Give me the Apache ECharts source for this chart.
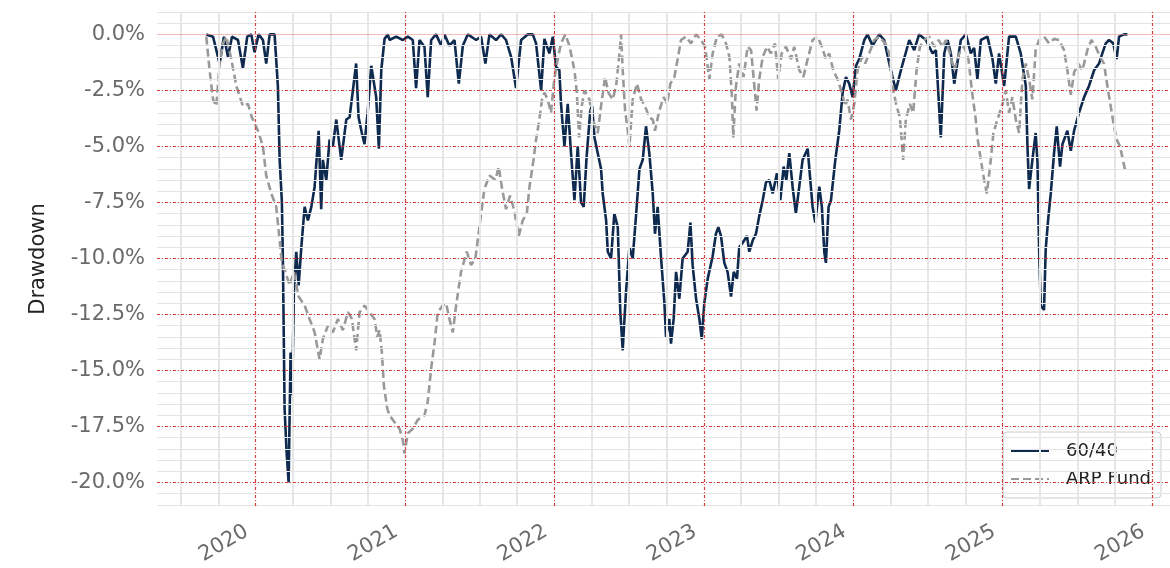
<!DOCTYPE html>
<html>
<head>
<meta charset="utf-8">
<title>Drawdown: 60/40 vs ARP Fund</title>
<script src="https://cdn.jsdelivr.net/npm/echarts@6/dist/echarts.min.js"></script>
<style>
  html, body { margin: 0; padding: 0; background: #ffffff; }
  #chart { width: 1170px; height: 568px; }
</style>
</head>
<body>
<div id="chart"></div>
<script>
// Time is stored as fractional years; drawdowns are in percent.
const t6040 = [
  2019.670, 2019.715, 2019.759, 2019.788, 2019.815, 2019.842, 2019.882, 2019.915, 2019.944, 2019.971,
  2019.993, 2020.020, 2020.049, 2020.071, 2020.094, 2020.127, 2020.149, 2020.161, 2020.176, 2020.183,
  2020.194, 2020.207, 2020.221, 2020.234, 2020.245, 2020.256, 2020.272, 2020.288, 2020.306, 2020.328,
  2020.350, 2020.373, 2020.395, 2020.422, 2020.439, 2020.450, 2020.473, 2020.495, 2020.517, 2020.540,
  2020.573, 2020.607, 2020.629, 2020.651, 2020.673, 2020.689, 2020.711, 2020.729, 2020.751, 2020.774,
  2020.807, 2020.825, 2020.841, 2020.863, 2020.885, 2020.896, 2020.941, 2020.985, 2021.019, 2021.052,
  2021.074, 2021.097, 2021.130, 2021.152, 2021.175, 2021.208, 2021.242, 2021.264, 2021.297, 2021.331,
  2021.360, 2021.387, 2021.420, 2021.476, 2021.509, 2021.538, 2021.565, 2021.609, 2021.643, 2021.676,
  2021.710, 2021.743, 2021.777, 2021.821, 2021.855, 2021.877, 2021.911, 2021.933, 2021.966, 2021.989,
  2022.011, 2022.033, 2022.044, 2022.067, 2022.089, 2022.111, 2022.134, 2022.156, 2022.178, 2022.196,
  2022.215, 2022.240, 2022.252, 2022.268, 2022.290, 2022.312, 2022.323, 2022.346, 2022.357, 2022.379,
  2022.401, 2022.424, 2022.441, 2022.457, 2022.479, 2022.502, 2022.524, 2022.546, 2022.569, 2022.591,
  2022.613, 2022.635, 2022.658, 2022.673, 2022.691, 2022.714, 2022.736, 2022.747, 2022.769, 2022.780,
  2022.798, 2022.814, 2022.836, 2022.858, 2022.892, 2022.910, 2022.925, 2022.948, 2022.970, 2022.986,
  2023.003, 2023.026, 2023.059, 2023.081, 2023.097, 2023.115, 2023.137, 2023.159, 2023.182, 2023.200,
  2023.222, 2023.237, 2023.260, 2023.289, 2023.304, 2023.327, 2023.349, 2023.371, 2023.394, 2023.416,
  2023.438, 2023.461, 2023.489, 2023.512, 2023.534, 2023.552, 2023.572, 2023.594, 2023.616, 2023.661,
  2023.695, 2023.710, 2023.728, 2023.746, 2023.773, 2023.790, 2023.806, 2023.817, 2023.835, 2023.851,
  2023.880, 2023.906, 2023.929, 2023.951, 2023.973, 2023.996, 2024.018, 2024.040, 2024.074, 2024.096,
  2024.129, 2024.174, 2024.207, 2024.241, 2024.285, 2024.319, 2024.375, 2024.408, 2024.441, 2024.486,
  2024.531, 2024.553, 2024.586, 2024.609, 2024.631, 2024.653, 2024.676, 2024.720, 2024.754, 2024.787,
  2024.809, 2024.831, 2024.854, 2024.898, 2024.932, 2024.954, 2024.976, 2025.010, 2025.043, 2025.088,
  2025.121, 2025.155, 2025.166, 2025.177, 2025.199, 2025.221, 2025.233, 2025.244, 2025.255, 2025.277,
  2025.288, 2025.304, 2025.322, 2025.344, 2025.362, 2025.384, 2025.400, 2025.433, 2025.456, 2025.478,
  2025.511, 2025.545, 2025.578, 2025.612, 2025.645, 2025.667, 2025.690, 2025.712, 2025.740, 2025.763,
  2025.779, 2025.812, 2025.835
];
const dd6040 = [
  0.0, -0.1, -1.3, -0.1, -1.0, -0.1, -0.25, -1.5, -0.1, 0.0,
  -0.8, 0.0, -0.25, -1.3, 0.0, 0.0, -2.3, -5.6, -7.5, -10.3,
  -16.7, -18.6, -20.0, -14.2, -16.1, -11.5, -9.7, -11.2, -9.5, -7.7,
  -8.3, -7.7, -6.8, -4.3, -7.8, -5.6, -6.5, -4.7, -5.0, -3.8,
  -5.6, -3.8, -3.7, -2.5, -1.3, -3.7, -4.4, -4.9, -3.4, -1.4,
  -2.8, -5.1, -1.6, -0.2, 0.0, -0.25, -0.1, -0.25, -0.1, -0.25,
  -2.4, -0.25, -0.55, -2.8, -0.25, 0.0, -0.5, 0.0, -0.5, -0.25,
  -2.2, -0.5, 0.0, -0.25, -0.1, -1.3, 0.0, -0.25, 0.0, -0.25,
  -1.0, -2.4, -0.25, 0.0, 0.0, -0.4, -2.5, -0.2, -0.85, -0.1,
  -1.45, -1.6, -3.1, -5.0, -3.1, -5.3, -7.4, -5.0, -7.5, -7.7,
  -5.5, -3.4, -3.2, -4.6, -5.3, -6.0, -7.1, -8.3, -9.7, -10.0,
  -8.0, -8.6, -12.4, -14.1, -11.5, -9.5, -10.0, -8.1, -6.0, -5.6,
  -4.1, -5.3, -7.1, -8.9, -7.7, -10.0, -12.0, -13.5, -12.7, -13.8,
  -12.7, -10.6, -11.8, -10.0, -9.7, -8.4, -10.3, -11.8, -12.7, -13.6,
  -12.0, -10.9, -9.9, -8.9, -8.6, -9.0, -10.2, -10.6, -11.7, -10.6,
  -10.9, -9.5, -9.3, -9.0, -9.7, -9.2, -8.9, -8.1, -7.4, -6.6,
  -6.5, -7.1, -6.2, -7.4, -5.9, -6.5, -5.3, -6.8, -8.0, -5.6,
  -5.1, -6.3, -7.7, -8.4, -6.8, -7.7, -9.7, -10.2, -7.7, -7.4,
  -5.6, -4.3, -2.6, -1.9, -2.2, -2.8, -1.4, -1.1, -0.25, 0.0,
  -0.5, 0.0, -0.25, -1.3, -2.5, -1.6, -0.25, -0.7, 0.0, -0.25,
  -0.85, -0.7, -4.6, -0.85, -0.25, -0.85, -2.2, -0.25, 0.0, -0.85,
  -0.6, -2.0, -0.25, -0.1, -1.1, -2.2, -0.85, -2.3, -0.1, -0.1,
  -0.85, -2.3, -5.0, -6.9, -5.6, -4.4, -5.7, -9.6, -12.1, -12.3,
  -9.6, -8.3, -7.1, -5.3, -4.1, -5.9, -4.9, -4.3, -5.2, -4.3,
  -3.5, -2.8, -2.3, -1.6, -1.3, -0.85, -0.4, -0.25, -0.4, -1.1,
  -0.1, 0.0, 0.0
];

const tArp = [
  2019.670, 2019.692, 2019.715, 2019.737, 2019.759, 2019.782, 2019.804, 2019.837, 2019.871, 2019.915,
  2019.949, 2019.975, 2020.016, 2020.049, 2020.071, 2020.105, 2020.138, 2020.161, 2020.176, 2020.199,
  2020.228, 2020.256, 2020.288, 2020.328, 2020.361, 2020.395, 2020.428, 2020.450, 2020.484, 2020.517,
  2020.551, 2020.584, 2020.618, 2020.644, 2020.673, 2020.696, 2020.729, 2020.763, 2020.796, 2020.814,
  2020.830, 2020.845, 2020.859, 2020.881, 2020.896, 2020.929, 2020.963, 2020.985, 2020.996, 2021.019,
  2021.052, 2021.086, 2021.130, 2021.152, 2021.175, 2021.197, 2021.219, 2021.253, 2021.275, 2021.297,
  2021.320, 2021.342, 2021.375, 2021.413, 2021.442, 2021.471, 2021.498, 2021.531, 2021.565, 2021.605,
  2021.627, 2021.650, 2021.676, 2021.703, 2021.725, 2021.743, 2021.761, 2021.788, 2021.815, 2021.833,
  2021.860, 2021.877, 2021.899, 2021.917, 2021.933, 2021.955, 2021.977, 2021.999, 2022.022, 2022.044,
  2022.073, 2022.100, 2022.134, 2022.150, 2022.165, 2022.183, 2022.201, 2022.234, 2022.256, 2022.290,
  2022.312, 2022.339, 2022.361, 2022.390, 2022.413, 2022.435, 2022.446, 2022.457, 2022.473, 2022.491,
  2022.502, 2022.524, 2022.553, 2022.580, 2022.606, 2022.635, 2022.658, 2022.673, 2022.702, 2022.731,
  2022.754, 2022.776, 2022.803, 2022.825, 2022.847, 2022.881, 2022.914, 2022.948, 2022.981, 2023.008,
  2023.037, 2023.059, 2023.088, 2023.119, 2023.148, 2023.171, 2023.188, 2023.197, 2023.215, 2023.237,
  2023.266, 2023.293, 2023.316, 2023.338, 2023.353, 2023.371, 2023.394, 2023.423, 2023.449, 2023.476,
  2023.498, 2023.521, 2023.550, 2023.583, 2023.605, 2023.639, 2023.666, 2023.695, 2023.728, 2023.761,
  2023.790, 2023.817, 2023.839, 2023.866, 2023.895, 2023.924, 2023.946, 2023.962, 2023.984, 2024.007,
  2024.029, 2024.058, 2024.080, 2024.107, 2024.140, 2024.174, 2024.214, 2024.241, 2024.268, 2024.290,
  2024.312, 2024.334, 2024.352, 2024.379, 2024.401, 2024.424, 2024.446, 2024.475, 2024.508, 2024.542,
  2024.571, 2024.598, 2024.620, 2024.647, 2024.676, 2024.709, 2024.742, 2024.771, 2024.794, 2024.820,
  2024.831, 2024.854, 2024.876, 2024.894, 2024.916, 2024.938, 2024.965, 2024.999, 2025.021, 2025.043,
  2025.065, 2025.088, 2025.110, 2025.132, 2025.155, 2025.177, 2025.199, 2025.221, 2025.244, 2025.277,
  2025.311, 2025.344, 2025.378, 2025.411, 2025.433, 2025.456, 2025.478, 2025.505, 2025.534, 2025.567,
  2025.594, 2025.623, 2025.652, 2025.678, 2025.701, 2025.723, 2025.745, 2025.763, 2025.786, 2025.808,
  2025.824
];
const ddArp = [
  -0.1, -1.6, -2.9, -3.2, -1.3, -0.4, -0.1, -1.1, -2.3, -3.2,
  -3.1, -3.7, -4.3, -5.0, -6.3, -7.1, -7.7, -9.2, -10.2, -10.6,
  -11.2, -10.6, -11.7, -12.1, -12.7, -13.3, -14.5, -13.6, -13.0, -13.3,
  -12.7, -13.2, -12.4, -12.7, -14.1, -12.4, -12.1, -12.4, -12.7, -13.5,
  -13.2, -14.2, -15.7, -16.7, -17.0, -17.3, -17.6, -18.1, -18.7, -17.8,
  -17.6, -17.2, -17.0, -16.4, -14.9, -13.8, -12.4, -12.1, -12.0, -12.7,
  -13.3, -12.1, -10.6, -9.7, -10.3, -10.0, -8.6, -6.9, -6.3, -6.5,
  -5.9, -6.9, -7.8, -7.2, -7.7, -8.3, -9.0, -8.3, -8.0, -6.8,
  -5.6, -4.7, -3.8, -2.9, -2.6, -2.9, -3.5, -2.0, -1.1, -0.4,
  0.0, -0.5, -1.6, -2.6, -4.6, -3.2, -2.5, -2.9, -3.8, -4.4,
  -3.2, -1.9, -2.6, -2.9, -2.3, -0.85, 0.0, -1.6, -3.4, -4.3,
  -5.0, -2.9, -2.2, -2.9, -3.2, -3.7, -3.8, -4.3, -3.4, -2.8,
  -3.1, -2.2, -1.9, -1.1, -0.25, -0.1, -0.4, 0.0, -0.25, -0.55,
  -2.0, -0.85, -0.1, 0.0, -0.4, -1.0, -2.8, -4.6, -2.3, -1.3,
  -1.9, -0.55, -0.7, -2.3, -3.4, -2.0, -1.0, -0.55, -0.85, -0.4,
  -2.0, -0.85, -0.55, -1.1, -0.55, -1.6, -1.9, -1.1, -0.25, -0.1,
  -0.55, -1.1, -0.85, -1.6, -2.0, -2.6, -3.2, -2.9, -3.8, -3.1,
  -1.6, -1.0, -1.3, -0.85, -0.25, -0.1, -0.4, -0.85, -2.5, -3.2,
  -3.7, -5.6, -3.8, -3.1, -3.5, -1.6, -0.55, -0.25, -0.1, -0.55,
  -0.25, -0.55, -0.25, -0.85, -1.6, -0.85, -0.55, -1.1, -2.5, -3.8,
  -4.6, -5.6, -6.5, -7.1, -5.9, -4.4, -3.8, -3.1, -2.5, -3.5,
  -2.8, -3.8, -4.4, -2.0, -1.3, -2.0, -2.9, -0.7, -0.25, -0.1,
  -0.4, -0.2, -0.25, -0.7, -1.6, -2.7, -1.7, -1.3, -1.6, -0.7,
  -0.25, -0.55, -1.0, -1.3, -2.3, -3.2, -4.1, -4.7, -5.0, -5.7,
  -6.2
];

// Axis ticks and gridline positions
const yearTicks = [2020, 2021, 2022, 2023, 2024, 2025, 2026];
const drawdownTicks = [0, -2.5, -5, -7.5, -10, -12.5, -15, -17.5, -20];
const minorDrawdownLines = [];
for (let k = -42; k <= 2; k++) {
  const v = k / 2;
  if (Math.abs(v / 2.5 - Math.round(v / 2.5)) > 1e-9) minorDrawdownLines.push(v);
}
const quarterLines = [];
for (let k = 2019 * 4 + 2; k <= 2026 * 4; k++) {
  if (k % 4 !== 0) quarterLines.push(k / 4);
}

const FONT = 'DejaVu Sans';
const RED = 'rgba(220, 50, 50, 0.95)';
const RED_DASH = [3, 2, 1, 2];

const gridLineData = [];
minorDrawdownLines.forEach(v => gridLineData.push({ yAxis: v, lineStyle: { color: '#e4e4e4', width: 1, type: 'solid' } }));
quarterLines.forEach(t => gridLineData.push({ xAxis: t, lineStyle: { color: '#e6e6e6', width: 2, type: 'solid' } }));
drawdownTicks.forEach(v => gridLineData.push({
  yAxis: v,
  lineStyle: v === 0
    ? { color: 'rgba(236, 140, 140, 0.6)', width: 1.2, type: 'solid' }
    : { color: RED, width: 1.2, type: RED_DASH }
}));
yearTicks.forEach(t => gridLineData.push({ xAxis: t, lineStyle: { color: RED, width: 1.2, type: RED_DASH } }));

const chart = echarts.init(document.getElementById('chart'), null, { renderer: 'canvas' });

chart.setOption({
  animation: false,
  backgroundColor: '#ffffff',
  textStyle: { fontFamily: FONT },
  grid: { left: 157, top: 12, width: 1014, height: 494, containLabel: false },
  xAxis: {
    type: 'value',
    min: 2019.34,
    max: 2026.12,
    axisLine: { show: false },
    axisTick: { show: false },
    splitLine: { show: false },
    axisLabel: {
      customValues: yearTicks,
      formatter: v => String(Math.round(v)),
      rotate: 30,
      margin: 19,
      padding: [0, 10, 0, 0],
      fontSize: 21,
      color: '#6a6a6a',
      fontFamily: FONT
    }
  },
  yAxis: {
    type: 'value',
    min: -21.05,
    max: 1.0,
    name: 'Drawdown',
    nameLocation: 'middle',
    nameGap: 108,
    nameTextStyle: { fontSize: 21, color: '#222222', fontFamily: FONT },
    axisLine: { show: false },
    axisTick: { show: false },
    splitLine: { show: false },
    axisLabel: {
      customValues: drawdownTicks,
      formatter: v => v.toFixed(1) + '%',
      margin: 12,
      fontSize: 21,
      color: '#6a6a6a',
      fontFamily: FONT
    }
  },
  legend: {
    orient: 'vertical',
    left: 1003,
    top: 432,
    data: ['60/40', 'ARP Fund'],
    itemWidth: 38,
    itemHeight: 14,
    itemGap: 10,
    padding: [10, 10, 10, 7],
    borderColor: '#cccccc',
    borderWidth: 1,
    borderRadius: 4,
    backgroundColor: 'rgba(255,255,255,0.85)',
    itemStyle: { opacity: 0 },
    textStyle: { fontSize: 18, color: '#222222', fontFamily: FONT, padding: [0, 0, 0, 12] }
  },
  series: [
    {
      name: 'gridlines',
      type: 'line',
      data: [],
      silent: true,
      z: 1,
      markLine: {
        silent: true,
        symbol: 'none',
        animation: false,
        label: { show: false },
        emphasis: { disabled: true },
        data: gridLineData
      }
    },
    {
      name: '60/40',
      type: 'line',
      data: t6040.map((t, i) => [t, dd6040[i]]),
      showSymbol: false,
      symbol: 'none',
      z: 3,
      lineStyle: { color: '#0e2a4f', width: 2.6 },
      itemStyle: { color: '#0e2a4f' }
    },
    {
      name: 'ARP Fund',
      type: 'line',
      data: tArp.map((t, i) => [t, ddArp[i]]),
      showSymbol: false,
      symbol: 'none',
      z: 4,
      lineStyle: { color: '#999999', width: 2.6, type: [8, 4] },
      itemStyle: { color: '#999999' }
    }
  ]
});
</script>
</body>
</html>
